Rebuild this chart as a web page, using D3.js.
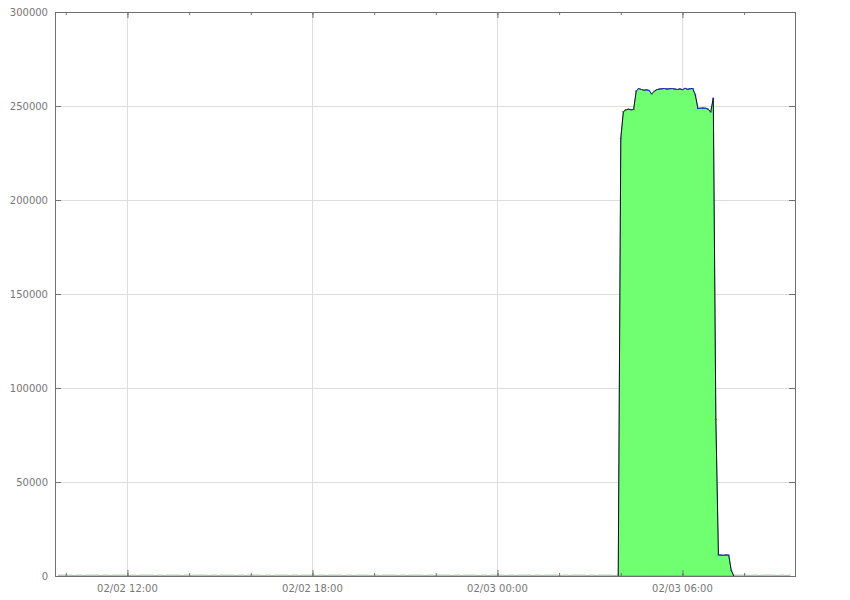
<!DOCTYPE html>
<html><head><meta charset="utf-8">
<script src="https://cdn.jsdelivr.net/npm/d3@7"></script>
<style>body{margin:0;background:#fff}text{font-family:"DejaVu Sans",sans-serif}</style>
</head><body><svg id="c" width="850" height="600"></svg>
<script>
const domainStart = "02/02 09:39", domainEnd = "02/03 09:39";
const yTicks = [0, 50000, 100000, 150000, 200000, 250000, 300000];
const xTickLabels = ["02/02 12:00", "02/02 18:00", "02/03 00:00", "02/03 06:00"];
const times = ["02/02 09:45","02/03 03:55",
 "02/03 04:00","02/03 04:05","02/03 04:10","02/03 04:15","02/03 04:20","02/03 04:25",
 "02/03 04:30","02/03 04:35","02/03 04:40","02/03 04:45","02/03 04:50","02/03 04:55",
 "02/03 05:00","02/03 05:05","02/03 05:10","02/03 05:15","02/03 05:20","02/03 05:25",
 "02/03 05:30","02/03 05:35","02/03 05:40","02/03 05:45","02/03 05:50","02/03 05:55",
 "02/03 06:00","02/03 06:05","02/03 06:10","02/03 06:15","02/03 06:20","02/03 06:25",
 "02/03 06:30","02/03 06:35","02/03 06:40","02/03 06:45","02/03 06:50","02/03 06:55",
 "02/03 07:00","02/03 07:05","02/03 07:10","02/03 07:15","02/03 07:20","02/03 07:25",
 "02/03 07:30","02/03 07:35","02/03 07:40","02/03 09:30"];
const values = [0,0,
 232800,247000,248000,248300,248000,248200,
 258000,259300,258800,258400,258600,258300,
 256400,257800,258700,259000,259200,259300,
 259000,259200,259300,259000,258800,259100,
 258700,259400,258900,259200,259300,256000,
 248700,248800,248900,248800,248300,246800,
 254200,83300,11200,11100,11000,11200,
 11100,3000,0,0];

const parse = d3.timeParse("%m/%d %H:%M");
const fmt = d3.timeFormat("%m/%d %H:%M");
const data = times.map((t,i)=>({t:parse(t), v:values[i]}));

const L=55, R=795, T=12, B=576;
const svg = d3.select("#c");
const x = d3.scaleTime().domain([parse(domainStart), parse(domainEnd)]).range([L,R]);
const y = d3.scaleLinear().domain([0,300000]).range([B,T]);
const majorX = xTickLabels.map(parse);
const minorX = x.ticks(d3.timeHour.every(2));
const grey = "#707070", gridC = "#dddddd";

// grid
svg.append("g").selectAll("line").data(majorX).join("line")
  .attr("x1",d=>x(d)).attr("x2",d=>x(d)).attr("y1",T).attr("y2",B)
  .attr("stroke",gridC).attr("shape-rendering","crispEdges");
svg.append("g").selectAll("line").data(yTicks.slice(1,-1)).join("line")
  .attr("x1",L).attr("x2",R).attr("y1",d=>y(d)).attr("y2",d=>y(d))
  .attr("stroke",gridC).attr("shape-rendering","crispEdges");

// area + line + points
const peak = data.slice(1, data.length-1);
const base = [data.slice(0,2), data.slice(data.length-2)];
svg.append("path").datum(data)
  .attr("d", d3.area().x(d=>x(d.t)).y0(B).y1(d=>y(d.v)))
  .attr("fill","#70ff70").attr("stroke","#2a9a2a").attr("stroke-width",0.6);
svg.append("g").selectAll("path").data(base).join("path")
  .attr("d", d3.line().x(d=>x(d.t)).y(d=>y(d.v)-1))
  .attr("fill","none").attr("stroke","#c8c8c8").attr("stroke-width",1)
  .attr("stroke-dasharray","14,4,6,3");
svg.append("path").datum(peak)
  .attr("d", d3.line().x(d=>x(d.t)).y(d=>y(d.v)))
  .attr("fill","none").attr("stroke","#101030").attr("stroke-width",1);
svg.append("g").selectAll("rect").data(data.filter(d=>d.v>0)).join("rect")
  .attr("x",d=>x(d.t)-1).attr("y",d=>y(d.v)-0.5).attr("width",2).attr("height",1)
  .attr("fill","#3333ff");

// axes (inward ticks, mirrored)
const axB = d3.axisTop(x).tickValues(majorX).tickSize(6).tickFormat("");
const axT = d3.axisBottom(x).tickValues(majorX).tickSize(6).tickFormat("");
const axBm = d3.axisTop(x).tickValues(minorX).tickSize(3).tickFormat("");
const axTm = d3.axisBottom(x).tickValues(minorX).tickSize(3).tickFormat("");
const axL = d3.axisRight(y).tickValues(yTicks).tickSize(6).tickFormat("");
const axR = d3.axisLeft(y).tickValues(yTicks).tickSize(6).tickFormat("");
[[axB,`translate(0,${B})`],[axBm,`translate(0,${B})`],[axT,`translate(0,${T})`],[axTm,`translate(0,${T})`],
 [axL,`translate(${L},0)`],[axR,`translate(${R},0)`]].forEach(([a,tr])=>{
  const g = svg.append("g").attr("transform",tr).call(a);
  g.select(".domain").remove();
  g.selectAll("line").attr("stroke",grey);
});
svg.append("rect").attr("x",L).attr("y",T).attr("width",R-L).attr("height",B-T)
  .attr("fill","none").attr("stroke",grey).attr("shape-rendering","crispEdges");

// labels
svg.append("g").selectAll("text").data(yTicks).join("text")
  .attr("x",L-7).attr("y",d=>y(d)).attr("dy","0.35em").attr("text-anchor","end")
  .attr("font-size",10).attr("fill","#777").text(d=>d);
svg.append("g").selectAll("text").data(majorX).join("text")
  .attr("x",d=>x(d)).attr("y",B+16).attr("text-anchor","middle")
  .attr("font-size",10).attr("fill","#777").text(d=>fmt(d));
</script></body></html>
